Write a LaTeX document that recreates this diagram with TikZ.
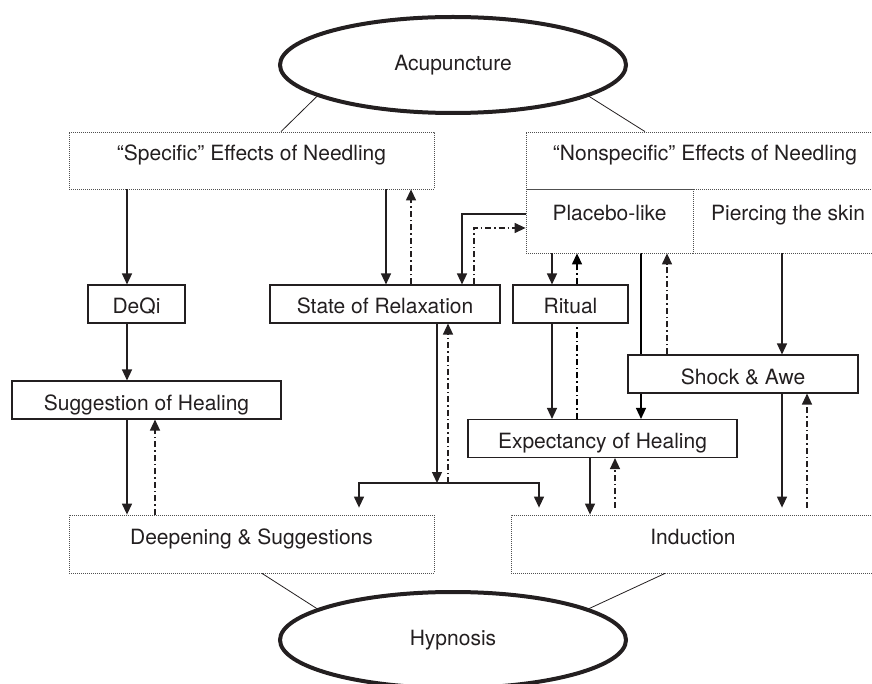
\documentclass[tikz,border=0pt]{standalone}
\usepackage{fontspec}
\setmainfont{TeX Gyre Heros}
\usepackage{tikz}
\usetikzlibrary{calc}
\usetikzlibrary{arrows.meta}
\usetikzlibrary{shapes.geometric}
\usetikzlibrary{backgrounds}
\usepackage{color}
\definecolor{inkgray}{RGB}{35, 31, 32}
\definecolor{dotgray}{RGB}{80, 80, 80}

\begin{document}
\begin{tikzpicture}[x=1pt, y=-1pt, color=inkgray,
        font=\fontsize{21}{25}\selectfont,
        oval/.style={draw, ellipse, line width=4pt, minimum width=346pt, minimum height=96pt, inner sep=0pt},
        effectbox/.style={draw=dotgray, line width=0.8pt, dash pattern=on 0.8pt off 1.2pt, text height=5pt, text depth=5pt, inner sep=0pt},
        stagebox/.style={draw, fill=white, line width=1.1pt, text height=24pt, text depth=4pt, inner xsep=0pt, inner ysep=5pt},
        drive/.style={line width=1.3pt, -{Triangle[length=11pt, width=10pt]}},
        feedback/.style={line width=1.3pt, dash pattern=on 6pt off 3pt on 1.5pt off 3pt, -{Triangle[length=11pt, width=10pt]}},
        link/.style={line width=0.8pt}]
    \useasboundingbox (0,0) rectangle (872,684);

    \node[oval]                                                (acu)     at (453.0,  65.0) {Acupuncture};
    \node[oval]                                                (hyp)     at (453.0, 640.0) {Hypnosis};

    \node[effectbox, minimum width=365pt, minimum height=57pt] (spec)    at (251.5, 160.5) {“Specific” Effects of Needling};
    \node[effectbox, minimum width=358pt, minimum height=57pt] (nonspec) at (705.0, 160.5) {“Nonspecific” Effects of Needling};
    \node[effectbox, minimum width=167pt, minimum height=64pt] (placebo) at (609.5, 221.0) {Placebo-like\hspace{18pt}};
    \node[effectbox, minimum width=190pt, minimum height=64pt] (pierce)  at (788.0, 221.0) {Piercing the skin};
    \node[effectbox, minimum width=365pt, minimum height=58pt] (deep)    at (251.5, 544.0) {Deepening \& Suggestions};
    \node[effectbox, minimum width=364pt, minimum height=58pt] (induct)  at (693.0, 544.0) {Induction};

    \node[stagebox, minimum width=97pt]                        (deqi)    at (136.5, 304.0) {DeQi};
    \node[stagebox, minimum width=230pt]                       (relax)   at (385.0, 304.0) {State of Relaxation};
    \node[stagebox, minimum width=115pt]                       (ritual)  at (570.5, 304.0) {Ritual};
    \node[stagebox, minimum width=269pt]                       (sugg)    at (146.5, 400.0) {Suggestion of Healing};
    \node[stagebox, minimum width=230pt]                       (shock)   at (743.0, 374.0) {Shock \& Awe};
    \node[stagebox, minimum width=269pt]                       (expect)  at (602.5, 438.5) {Expectancy of Healing};

    \draw[link] (spec.north -| 281,0)    -- (acu.193);
    \draw[link] (nonspec.north -| 645,0) -- (acu.347);
    \draw[link] (deep.south -| 262,0)    -- (hyp.167);
    \draw[link] (induct.south -| 665,0)  -- (hyp.13);

    \draw[drive]    (spec.south -| 127,0)  -- (deqi.north -| 127,0);
    \draw[drive]    (deqi.south -| 127,0)  -- (sugg.north -| 127,0);
    \draw[drive]    (sugg.south -| 127,0)  -- (deep.north -| 127,0);
    \draw[feedback] (deep.north -| 155,0)  -- (sugg.south -| 155,0);

    \draw[drive]    (spec.south -| 386,0)  -- (relax.north -| 386,0);
    \draw[feedback] (relax.north -| 411,0) -- (spec.south -| 411,0);
    \draw[drive]    (placebo.west |- 0,214) -| (relax.north -| 462,0);
    \draw[feedback] (relax.north -| 474,0) |- (placebo.west |- 0,228);

    \draw[drive]    (placebo.south -| 552,0) -- (ritual.north -| 552,0);
    \draw[drive]    (ritual.south -| 552,0)  -- (expect.north -| 552,0);
    \draw[feedback] (shock.north -| 667,0)   -- (placebo.south -| 667,0);
    \draw[drive]    (pierce.south -| 782,0)  -- (shock.north -| 782,0);
    \begin{pgfonlayer}{background}
        \draw[feedback] (expect.north -| 577,0)  -- (placebo.south -| 577,0);
        \draw[drive]    (placebo.south -| 641,0) -- (expect.north -| 641,0);
    \end{pgfonlayer}

    \draw[drive]                   (expect.south -| 590,0) -- (induct.north -| 590,0);
    \draw[feedback, shorten <=7pt] (induct.north -| 615,0) -- (expect.south -| 615,0);
    \draw[drive, shorten >=7pt]    (shock.south -| 782,0)  -- (induct.north -| 782,0);
    \draw[feedback, shorten <=7pt] (induct.north -| 807,0) -- (shock.south -| 807,0);

    \coordinate (split) at (437,483);
    \coordinate (rise)  at (448,483);
    \draw[drive]                (relax.south -| split) -- (split);
    \draw[drive, shorten >=7pt] (split) -| (deep.north -| 359,0);
    \draw[drive, shorten >=7pt] (split) -| (induct.north -| 539,0);
    \draw[feedback]             (rise)  -- (relax.south -| rise);
\end{tikzpicture}
\end{document}
